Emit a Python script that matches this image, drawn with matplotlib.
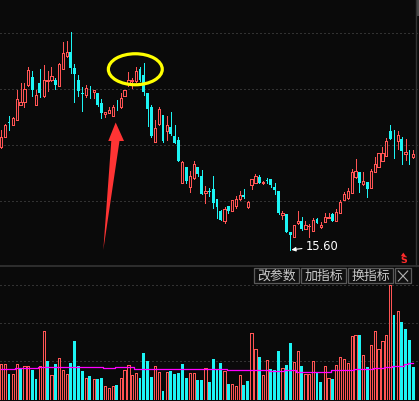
import matplotlib.pyplot as plt
from matplotlib.patches import Rectangle, Ellipse, Polygon
from matplotlib.lines import Line2D
from matplotlib.transforms import Affine2D

plt.rcParams['font.family'] = ['Noto Sans CJK SC', 'DejaVu Sans']

# daily OHLC (108 sessions)
opens = [19.74, 20.14, 20.71, 20.61, 20.81, 21.41, 21.51, 22.19, 22.51, 21.41, 22.28, 21.75,
         22.35, 22.39, 22.41, 22.17, 22.85, 23.37, 23.53, 22.87, 22.40, 21.88, 21.80, 21.93,
         21.91, 21.87, 21.47, 21.04, 21.09, 20.96, 21.33, 21.31, 21.76, 22.27, 22.37, 22.36,
         22.83, 22.59, 21.88, 21.32, 19.93, 20.63, 21.00, 20.37, 20.53, 20.16, 20.00, 18.29,
         18.91, 18.11, 18.49, 18.91, 18.56, 17.87, 17.97, 18.04, 17.63, 17.16, 16.76, 17.36,
         17.16, 17.36, 17.63, 17.80, 17.33, 18.20, 18.29, 18.53, 18.30, 18.40, 18.43, 18.13,
         17.96, 17.00, 17.04, 16.33, 16.11, 16.67, 16.76, 16.44, 16.55, 16.36, 16.83, 16.53,
         16.73, 16.90, 17.04, 16.77, 17.09, 17.60, 17.67, 17.89, 18.53, 18.73, 18.23, 18.31,
         18.09, 18.73, 18.93, 19.17, 19.37, 20.36, 19.98, 19.96, 20.04, 19.43, 19.44, 19.33]
highs = [20.40, 20.64, 20.95, 20.92, 22.01, 22.28, 22.28, 22.92, 22.75, 22.01, 22.84, 22.99,
         22.75, 22.91, 22.48, 23.08, 23.92, 23.95, 24.31, 23.04, 22.60, 22.11, 22.20, 22.16,
         22.02, 21.88, 21.63, 21.14, 21.31, 21.40, 21.60, 21.87, 22.01, 22.73, 22.49, 22.93,
         22.93, 23.07, 21.89, 21.40, 20.80, 21.33, 21.02, 20.96, 21.13, 20.60, 20.13, 19.16,
         18.92, 18.77, 19.16, 18.92, 18.80, 18.16, 18.07, 18.56, 17.64, 17.20, 17.31, 17.37,
         17.61, 17.76, 17.96, 18.04, 17.57, 18.45, 18.63, 18.60, 18.36, 18.47, 18.44, 18.29,
         17.97, 17.16, 17.05, 16.34, 16.61, 17.16, 16.93, 16.76, 16.64, 16.87, 16.89, 16.71,
         17.07, 17.07, 17.09, 17.23, 17.60, 17.93, 18.09, 18.83, 19.23, 18.74, 18.71, 18.32,
         18.83, 19.33, 19.50, 19.71, 20.07, 20.60, 20.40, 20.37, 20.13, 20.03, 19.60, 19.60]
lows = [19.68, 20.12, 20.41, 20.60, 20.80, 21.40, 21.32, 22.16, 21.75, 21.40, 21.72, 21.74,
        21.97, 22.38, 22.05, 22.16, 22.84, 23.32, 22.67, 21.53, 21.77, 21.17, 21.73, 21.67,
        21.67, 21.36, 20.87, 20.91, 21.08, 20.95, 21.20, 21.30, 21.75, 22.16, 22.07, 22.34,
        22.38, 21.80, 20.57, 20.14, 19.92, 20.62, 19.93, 20.00, 20.22, 19.88, 19.16, 18.28,
        18.27, 17.93, 18.44, 18.57, 17.83, 17.49, 17.76, 17.27, 16.89, 16.79, 16.69, 17.07,
        17.15, 17.29, 17.60, 17.70, 17.29, 18.04, 18.28, 18.26, 18.24, 18.27, 18.11, 17.83,
        17.06, 16.83, 16.32, 15.60, 16.10, 16.66, 16.40, 16.43, 16.13, 16.35, 16.68, 16.47,
        16.72, 16.87, 16.76, 16.76, 17.08, 17.59, 17.66, 17.88, 18.49, 17.93, 18.22, 17.71,
        18.08, 18.72, 18.92, 19.16, 19.36, 20.03, 19.29, 19.63, 19.04, 19.20, 19.04, 19.30]
closes = [20.11, 20.61, 20.68, 20.88, 21.64, 21.52, 22.04, 22.79, 22.01, 21.79, 21.88, 22.39,
          22.41, 22.55, 22.19, 23.04, 23.48, 23.52, 22.87, 22.64, 21.97, 21.86, 22.07, 21.91,
          22.00, 21.40, 21.09, 21.13, 21.20, 21.31, 21.31, 21.67, 22.00, 22.40, 22.39, 22.76,
          22.40, 21.93, 21.25, 20.16, 20.47, 21.23, 19.96, 20.60, 20.24, 19.89, 19.17, 19.11,
          18.37, 18.56, 19.04, 18.64, 17.84, 17.97, 17.92, 17.49, 17.31, 16.80, 17.24, 17.17,
          17.60, 17.63, 17.80, 17.71, 17.51, 18.44, 18.56, 18.27, 18.32, 18.38, 18.20, 18.00,
          17.07, 17.09, 16.33, 16.20, 16.60, 16.76, 16.43, 16.60, 16.57, 16.80, 16.69, 16.60,
          16.91, 16.92, 16.77, 17.13, 17.53, 17.83, 17.96, 18.71, 18.76, 18.29, 18.36, 18.04,
          18.76, 19.04, 19.49, 19.49, 19.96, 20.04, 19.96, 20.20, 19.57, 19.51, 19.42, 19.43]

# volume (10k lots), its colour flag (r = up, c = down) and the volume average line
volumes = [3.6, 3.6, 2.6, 2.6, 3.6, 3.1, 3.4, 3.4, 3.0, 2.1, 3.4, 6.9,
           3.9, 2.5, 3.6, 4.2, 3.0, 2.6, 3.7, 5.9, 3.4, 2.9, 2.2, 2.4,
           2.1, 2.1, 2.2, 1.4, 1.2, 1.4, 1.5, 2.2, 3.0, 3.5, 2.5, 2.7,
           2.2, 4.7, 3.9, 2.3, 3.4, 2.8, 0.9, 2.8, 2.9, 2.6, 2.7, 3.6,
           2.2, 2.7, 2.7, 2.0, 2.0, 3.2, 1.8, 4.1, 3.1, 3.7, 2.9, 1.6,
           1.6, 1.4, 2.5, 1.5, 1.9, 6.7, 5.1, 4.3, 2.5, 4.0, 3.1, 3.0,
           4.9, 3.2, 3.5, 5.7, 3.8, 4.9, 3.4, 2.6, 2.6, 3.9, 2.8, 1.8,
           3.4, 2.2, 2.1, 3.5, 4.3, 4.1, 3.7, 6.4, 6.5, 6.5, 4.5, 3.3,
           5.5, 6.9, 5.1, 5.9, 6.5, 11.5, 8.5, 8.9, 7.8, 7.1, 6.0, 3.3]
vol_dirs = ("rrcrrcrrccrr" "crcrrrccccrc" "rccrrrcrrrrr" "ccccrrcrcccc" "crrccrccccrc"
            "rrrccrrcrrcc" "crccrrcrrrcc" "rrcrrrrrrcrc" "rrrrrrcrcccc")
vol_ma = [3.07, 3.07, 3.07, 3.07, 3.20, 3.20, 3.20, 3.20, 3.20, 3.20, 3.27, 3.27,
          3.27, 3.27, 3.27, 3.27, 3.27, 3.27, 3.27, 3.27, 3.27, 3.27, 3.27, 3.27,
          3.27, 3.27, 3.27, 3.17, 3.17, 3.17, 3.27, 3.27, 3.27, 3.27, 3.27, 3.07,
          3.07, 3.07, 3.07, 3.07, 3.07, 3.07, 3.07, 3.07, 3.07, 3.07, 3.07, 3.07,
          3.07, 3.07, 3.07, 3.07, 3.10, 3.10, 3.10, 3.10, 3.10, 3.10, 3.10, 2.97,
          2.97, 2.97, 2.97, 2.97, 2.97, 2.97, 2.97, 2.97, 2.97, 2.97, 2.87, 2.87,
          2.87, 2.87, 2.97, 2.97, 2.97, 2.83, 2.83, 2.83, 2.83, 2.83, 2.83, 2.83,
          2.83, 2.83, 3.00, 3.00, 3.00, 3.00, 3.00, 3.00, 3.10, 3.10, 3.10, 3.10,
          3.10, 3.17, 3.17, 3.17, 3.27, 3.27, 3.43, 3.43, 3.43, 3.57, 3.67, 3.67]

price_grid = [24.28, 22.04, 19.80, 17.56]
vol_grid = [3.87, 7.67, 11.47]
buttons = ["改参数", "加指标", "换指标"]

BG = '#0a0a0a'
RED = '#ff5454'
CYAN = '#1cf4f4'
GRID = '#5a5a5a'
W, H = 419, 401
STEP = 3.85  # pixels per session
HOLLOW_W = 0.6
FILLED_W = 0.74

fig = plt.figure(figsize=(W / 100, H / 100), dpi=100, facecolor=BG)
pix = Affine2D().scale(1 / W, -1 / H).translate(0, 1) + fig.transFigure

ax = fig.add_axes([0, 1 - 266 / H, 1, 266 / H])
axv = fig.add_axes([0, 1 / H, 1, 134 / H])
for a in (ax, axv):
    a.set_facecolor(BG)
    a.set_xlim(-1.33 / STEP, (W - 1.33) / STEP)
    a.set_axis_off()
ax.set_ylim(14.96, 25.60)
axv.set_ylim(0, 13.4)

for y in price_grid:
    ax.axhline(y, color=GRID, lw=0.72, ls=(0, (1, 3)), zorder=0)
for y in vol_grid:
    axv.axhline(y, color=GRID, lw=0.72, ls=(0, (1, 3)), zorder=0)

# candles: red hollow for up days, cyan filled for down days (crisp, no antialiasing)
crisp = dict(antialiased=False)
for i, (o, h, l, c) in enumerate(zip(opens, highs, lows, closes)):
    if c >= o:
        ax.vlines(i, c, h, color=RED, lw=0.72, antialiased=False)
        ax.vlines(i, l, o, color=RED, lw=0.72, antialiased=False)
        ax.add_patch(Rectangle((i - HOLLOW_W / 2, o), HOLLOW_W, c - o, fc=BG, ec=RED,
                               lw=0.72, zorder=3, **crisp))
    else:
        ax.vlines(i, l, h, color=CYAN, lw=0.72, antialiased=False)
        ax.add_patch(Rectangle((i - FILLED_W / 2, c), FILLED_W, max(o - c, 0.02), fc=CYAN,
                               ec='none', zorder=3, **crisp))

for i, (v, d) in enumerate(zip(volumes, vol_dirs)):
    if d == 'r':
        axv.add_patch(Rectangle((i - HOLLOW_W / 2, 0), HOLLOW_W, v, fc=BG, ec=RED,
                                lw=0.72, **crisp))
    else:
        axv.add_patch(Rectangle((i - FILLED_W / 2, 0), FILLED_W, v, fc=CYAN, ec='none', **crisp))
axv.plot(range(len(vol_ma)), vol_ma, color='#ff00ff', lw=0.9, drawstyle='steps-mid', zorder=4)

# lowest price marker
low_i = lows.index(min(lows))
ax.annotate(f"{lows[low_i]:.2f}", xy=(low_i, lows[low_i]), xytext=(16, 4),
            textcoords='offset pixels', ha='left', va='center', color='white',
            fontsize=8.3, family='DejaVu Sans',
            arrowprops=dict(arrowstyle='-|>', color='white', lw=0.8,
                            mutation_scale=6, shrinkA=1, shrinkB=1))

# hand-drawn highlights
ax.add_patch(Ellipse((34.8, 22.83), 14.0, 1.24, fill=False, ec='#ffff00', lw=2.3, zorder=5))
arrow_pts = [(26.49, 15.60), (28.56, 19.96), (27.78, 19.96), (29.70, 20.70),
             (31.86, 19.96), (30.69, 19.96)]
ax.add_patch(Polygon(arrow_pts, closed=True, fc='#ff3434', ec='none', zorder=5))

# panel frame bits
fig.add_artist(Line2D([0, W], [266, 266], transform=pix, color='#2e2e2e', lw=1.4))
fig.add_artist(Line2D([416, 416], [0, 266], transform=pix, color='#333333', lw=1.0))
fig.add_artist(Rectangle((417, 0), 2, 16, transform=pix, fc='#4a4a4a', ec='none'))

# sell-signal glyph at the right edge
fig.add_artist(Polygon([(400.8, 256.2), (403.3, 252.6), (405.8, 256.2)], closed=True,
                       transform=pix, fc='#ff2a2a', ec='none'))
fig.text(403.3, 260.8, 'S', transform=pix, color='#ff2a2a', fontsize=6.8, fontweight='bold',
         ha='center', va='center', family='DejaVu Sans')

for k, label in enumerate(buttons):
    x0 = 254.3 + k * 46.9
    fig.add_artist(Rectangle((x0, 268.3), 44.7, 15, transform=pix,
                             fc='#101010', ec='#5a5a5a', lw=0.9))
    fig.text(x0 + 22.35, 276, label, transform=pix, ha='center', va='center',
             color='#c8c8c8', fontsize=9.3)
fig.add_artist(Rectangle((395, 268.3), 15.7, 15, transform=pix, fc='#101010', ec='#5a5a5a', lw=0.9))
fig.add_artist(Line2D([398.3, 407.7], [271, 281], transform=pix, color='#b0b0b0', lw=0.8))
fig.add_artist(Line2D([398.3, 407.7], [281, 271], transform=pix, color='#b0b0b0', lw=0.8))

fig.savefig('out.png', dpi=100, facecolor=BG)
